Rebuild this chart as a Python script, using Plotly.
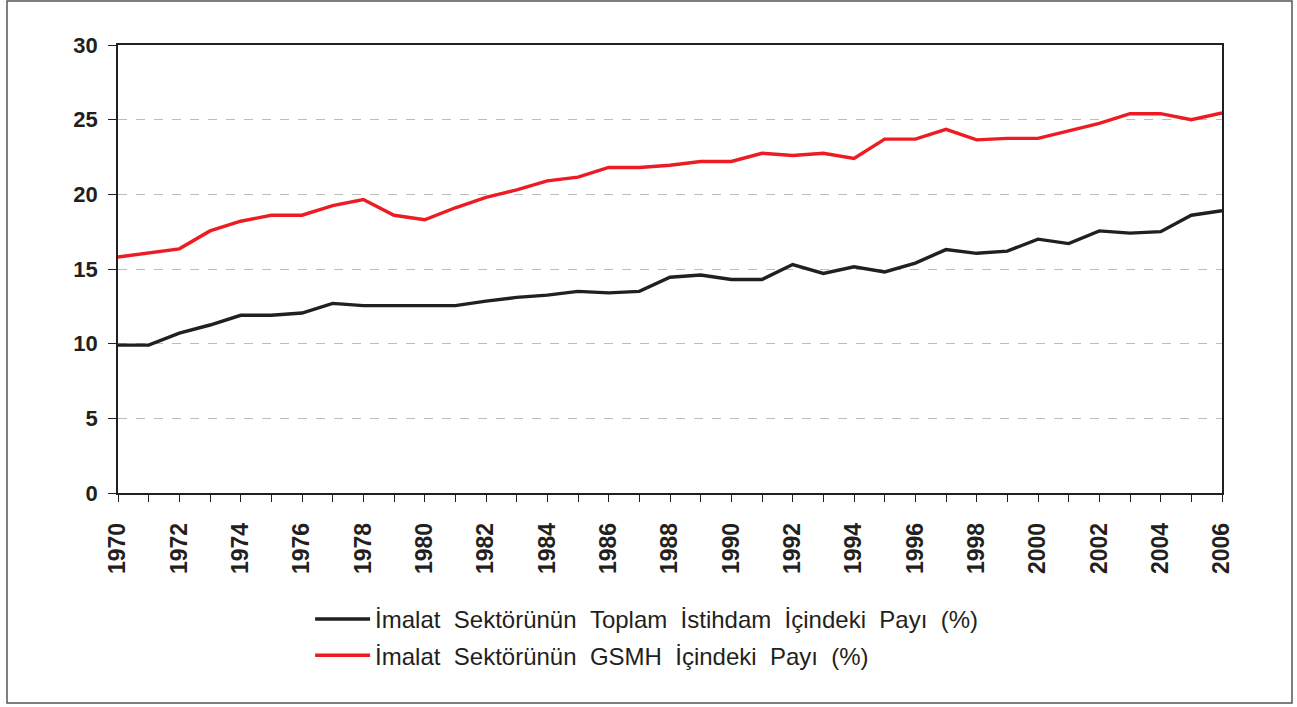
import plotly.graph_objects as go

years = list(range(1970, 2007))
istihdam = [9.9, 9.9, 10.7, 11.25, 11.9, 11.9, 12.05, 12.7, 12.55, 12.55,
            12.55, 12.55, 12.85, 13.1, 13.25, 13.5, 13.4, 13.5, 14.45, 14.6,
            14.3, 14.3, 15.3, 14.7, 15.15, 14.8, 15.4, 16.3, 16.05, 16.2,
            17.0, 16.7, 17.55, 17.4, 17.5, 18.6, 18.9]
gsmh = [15.8, 16.05, 16.35, 17.55, 18.2, 18.6, 18.6, 19.25, 19.65, 18.6,
        18.3, 19.1, 19.8, 20.3, 20.9, 21.15, 21.8, 21.8, 21.95, 22.2,
        22.2, 22.75, 22.6, 22.75, 22.4, 23.7, 23.7, 24.35, 23.65, 23.75,
        23.75, 24.25, 24.75, 25.4, 25.4, 25.0, 25.45]
x_ticktext = [str(y) if y % 2 == 0 else "" for y in years]
y_ticks = [0, 5, 10, 15, 20, 25, 30]

sp = " \u00a0"
name1 = sp.join(["İmalat", "Sektörünün", "Toplam", "İstihdam", "İçindeki", "Payı", "(%)"])
name2 = sp.join(["İmalat", "Sektörünün", "GSMH", "İçindeki", "Payı", "(%)"])

fig = go.Figure()
fig.add_trace(go.Scatter(x=years, y=istihdam, mode="lines", name=name1,
                         line=dict(color="#231f20", width=3.4), legendgroup="a"))
fig.add_trace(go.Scatter(x=years, y=gsmh, mode="lines", name=name2,
                         line=dict(color="#ed1c24", width=3.4), legendgroup="b"))

axis_col = "#231f20"
fig.update_layout(
    width=1297, height=707,
    margin=dict(l=118, r=75, t=45, b=214),
    paper_bgcolor="white", plot_bgcolor="white",
    font=dict(family="Liberation Sans, Arial, sans-serif", color="#231f20"),
    showlegend=True,
    legend=dict(x=0.174, y=-0.232, xanchor="left", yanchor="top",
                font=dict(size=24, family="Liberation Sans, Arial, sans-serif", color="#231f20"),
                traceorder="grouped", tracegroupgap=2, itemwidth=55,
                bgcolor="rgba(0,0,0,0)", borderwidth=0),
    xaxis=dict(range=[1970, 2006], tickmode="array", tickvals=years, ticktext=x_ticktext,
               tickangle=-90, ticks="outside", ticklen=7, tickwidth=1.2, tickcolor=axis_col,
               showline=True, linecolor=axis_col, linewidth=1.5, mirror=True,
               showgrid=False, zeroline=False, ticklabelstandoff=12,
               tickfont=dict(size=23, weight="bold", color="#231f20")),
    yaxis=dict(range=[0, 30], tickmode="array", tickvals=y_ticks,
               ticks="outside", ticklen=8, tickwidth=1.2, tickcolor=axis_col,
               showline=True, linecolor=axis_col, linewidth=1.5, mirror=True,
               showgrid=True, gridcolor="#bdbdbd", griddash="dash", gridwidth=1.2,
               zeroline=False, ticklabelstandoff=6,
               tickfont=dict(size=22, weight="bold", color="#231f20")),
    shapes=[dict(type="rect", xref="paper", yref="paper",
                 x0=(7 - 118) / 1104, x1=(1292 - 118) / 1104,
                 y0=(493 - 703) / 448, y1=(493 - 1) / 448,
                 line=dict(color="#555555", width=1.5), fillcolor="rgba(0,0,0,0)",
                 layer="below")],
)

fig.write_html("out.html", config={"displayModeBar": False},
               post_script="document.body.style.margin='0';document.body.style.overflow='hidden';")
